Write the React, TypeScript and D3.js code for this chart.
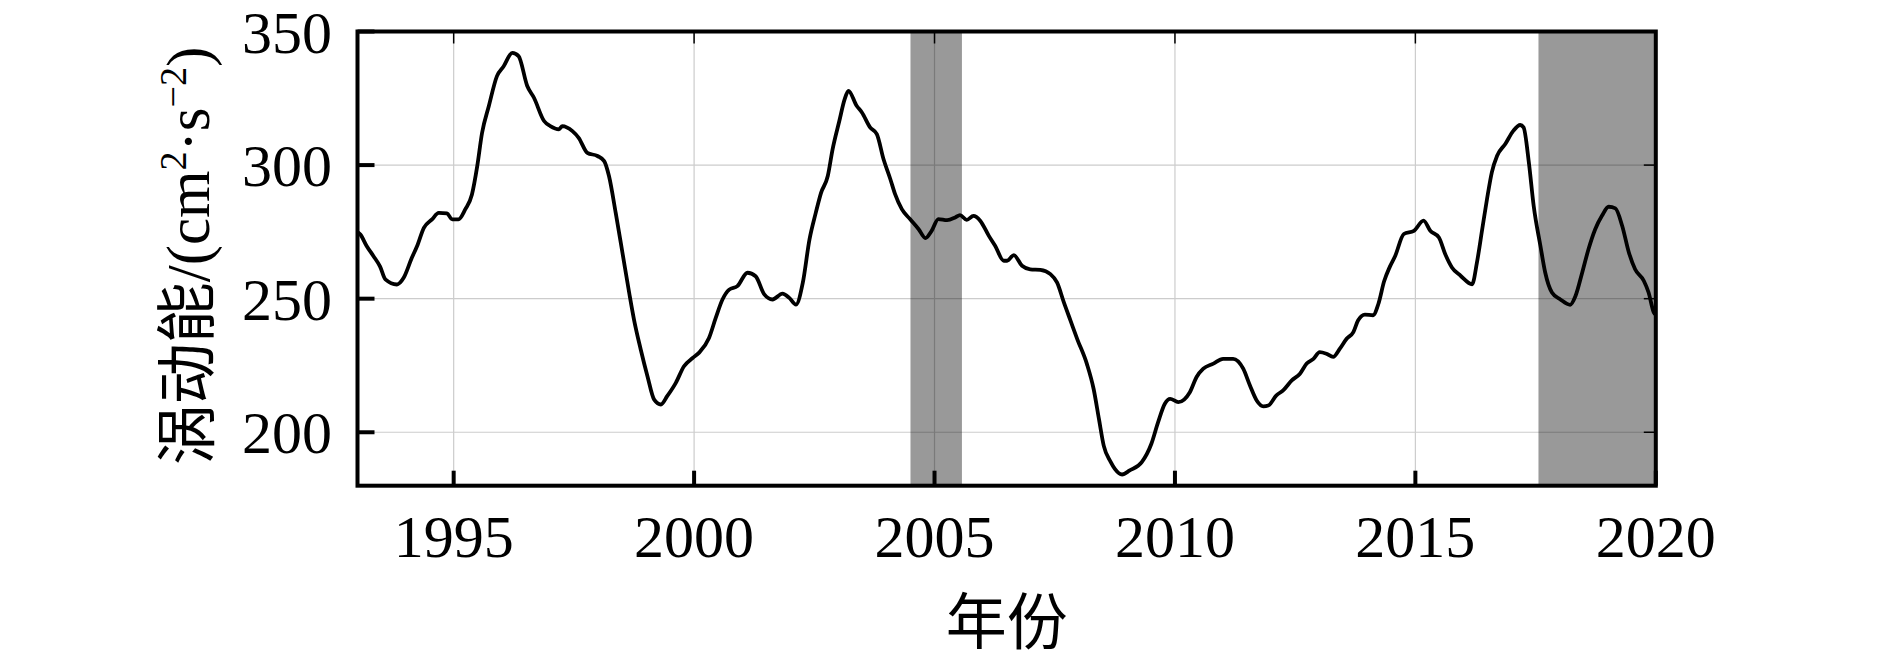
import React from "react";
import * as d3 from "d3";

const years: number[] = [
  1993.0, 1993.06, 1993.19, 1993.33, 1993.47, 1993.58, 1993.82, 1993.96, 1994.13, 1994.24,
  1994.38, 1994.55, 1994.69, 1994.86, 1994.97, 1995.1, 1995.24, 1995.38, 1995.49, 1995.59,
  1995.73, 1995.9, 1996.04, 1996.22, 1996.35, 1996.53, 1996.67, 1996.88, 1997.01, 1997.19,
  1997.26, 1997.47, 1997.6, 1997.78, 1997.99, 1998.13, 1998.23, 1998.37, 1998.51, 1998.65,
  1998.75, 1998.89, 1999.03, 1999.17, 1999.31, 1999.44, 1999.62, 1999.79, 1999.97, 2000.1,
  2000.31, 2000.45, 2000.59, 2000.73, 2000.9, 2001.11, 2001.28, 2001.46, 2001.63, 2001.84,
  2001.98, 2002.12, 2002.26, 2002.4, 2002.53, 2002.64, 2002.78, 2002.88, 2003.02, 2003.13,
  2003.21, 2003.38, 2003.49, 2003.66, 2003.8, 2003.94, 2004.08, 2004.18, 2004.32, 2004.49,
  2004.67, 2004.81, 2004.94, 2005.08, 2005.26, 2005.43, 2005.53, 2005.67, 2005.81, 2005.95,
  2006.13, 2006.26, 2006.44, 2006.51, 2006.65, 2006.82, 2006.99, 2007.2, 2007.41, 2007.55,
  2007.69, 2007.83, 2007.97, 2008.17, 2008.31, 2008.42, 2008.52, 2008.66, 2008.75, 2008.9,
  2009.06, 2009.31, 2009.51, 2009.65, 2009.79, 2009.9, 2010.07, 2010.31, 2010.45, 2010.59,
  2010.8, 2011.0, 2011.21, 2011.42, 2011.56, 2011.7, 2011.84, 2011.94, 2012.11, 2012.25,
  2012.43, 2012.6, 2012.74, 2012.88, 2013.01, 2013.15, 2013.29, 2013.43, 2013.57, 2013.71,
  2013.81, 2013.95, 2014.12, 2014.23, 2014.35, 2014.47, 2014.58, 2014.76, 2014.97, 2015.17,
  2015.31, 2015.49, 2015.62, 2015.76, 2015.94, 2016.18, 2016.28, 2016.39, 2016.49, 2016.59,
  2016.7, 2016.87, 2017.04, 2017.18, 2017.25, 2017.36, 2017.46, 2017.6, 2017.7, 2017.84,
  2018.01, 2018.22, 2018.33, 2018.47, 2018.6, 2018.74, 2018.88, 2019.02, 2019.16, 2019.3,
  2019.44, 2019.57, 2019.75, 2019.85, 2019.96, 2020.0,
];

const eke: number[] = [
  275, 274, 269.7, 266, 262, 257.2, 255.3, 257.8, 265.3, 269.7,
  276.5, 279.7, 282.1, 281.9, 279.7, 279.7, 283.4, 289, 299.6, 312,
  322, 333.3, 337, 342, 340.8, 329.6, 325.2, 316.5, 314.6, 313.4,
  314.6, 312.7, 310.2, 304.6, 303.4, 301.5, 295.9, 282.1, 267.2, 252.2,
  242.2, 231, 221, 212.2, 210.4, 213.5, 218.5, 224.7, 227.8, 229.7,
  235.3, 242.8, 249.7, 253.4, 254.7, 259.7, 258.4, 251.6, 249.7, 251.9,
  250.3, 247.8, 255.9, 272.2, 282.1, 289.6, 295.9, 305.9, 316.5, 324.6,
  327.8, 322.2, 319.7, 314.1, 311.6, 302.2, 294.8, 289.1, 283.5, 279.8,
  276, 272.7, 275.4, 279.8, 279.4, 280.4, 281.3, 279.5, 281, 279.2,
  273.5, 269.8, 264.2, 264.2, 266.3, 262.3, 261, 260.8, 259.2, 256,
  248.6, 241.7, 234.8, 225.5, 216.1, 204.9, 194.9, 189, 186.3, 184.2,
  185.7, 188.8, 195.7, 203.8, 210.7, 212.5, 211.3, 215, 220.7, 223.8,
  225.7, 227.5, 227.5, 223.8, 217.5, 211.9, 209.7, 210, 213.8, 215.7,
  219.4, 221.9, 225.7, 227.5, 230, 229.4, 228.2, 231.3, 235, 237.5,
  241.9, 244, 243.8, 248, 256.5, 262, 266, 274.2, 275.4, 279.2,
  275.4, 272.9, 266.7, 261.7, 258.6, 255.4, 263.5, 276, 287.3, 297.3,
  303.5, 307.9, 312.9, 315, 314.1, 301, 284.8, 269.8, 259.8, 252.3,
  249.8, 247.7, 251, 259.8, 268.5, 276, 281, 284.4, 283.8, 277.3,
  267.3, 261, 256.7, 252.3, 244.8, 244,
];

const shadeStart: number[] = [2004.5, 2017.56];
const shadeEnd: number[] = [2005.57, 2020];

const xTicks: number[] = [1995, 2000, 2005, 2010, 2015, 2020];
const yTicks: number[] = [200, 250, 300, 350];

const xLabel = "年份";

export default function App() {
  const W = 1890;
  const H = 660;
  const left = 357.5;
  const right = 1655.8;
  const top = 31.5;
  const bottom = 485.7;

  const x = d3.scaleLinear().domain([1993, 2020]).range([left, right]);
  const y = d3.scaleLinear().domain([180, 350]).range([bottom, top]);

  const pts: [number, number][] = years.map((t, i) => [t, eke[i]]);
  const line = d3
    .line<[number, number]>()
    .x((d) => x(d[0]))
    .y((d) => y(d[1]))
    .curve(d3.curveMonotoneX);

  const serif = "'Liberation Serif', 'Times New Roman', 'Noto Sans CJK SC', serif";
  const cjk = "'Liberation Serif', 'Noto Sans CJK SC', serif";

  return (
    <svg
      width={W}
      height={H}
      style={{ position: "absolute", left: 0, top: 0, background: "#fff" }}
    >
      <defs>
        <clipPath id="plotClip">
          <rect x={left} y={top} width={right - left} height={bottom - top} />
        </clipPath>
      </defs>
      <rect x={0} y={0} width={W} height={H} fill="#fff" />
      {/* grid */}
      <g>
        {xTicks
          .filter((t) => t > 1993 && t < 2020)
          .map((t) => (
            <line key={"gx" + t} x1={x(t)} x2={x(t)} y1={top} y2={bottom} stroke="#cccccc" strokeWidth={1.2} />
          ))}
        {yTicks
          .filter((v) => v > 180 && v < 350)
          .map((v) => (
            <line key={"gy" + v} x1={left} x2={right} y1={y(v)} y2={y(v)} stroke="#cccccc" strokeWidth={1.2} />
          ))}
      </g>
      {/* shaded periods */}
      <g clipPath="url(#plotClip)">
        {shadeStart.map((s, i) => (
          <rect
            key={"sh" + i}
            x={x(s)}
            y={top}
            width={x(shadeEnd[i]) - x(s)}
            height={bottom - top}
            fill="#000"
            fillOpacity={0.4}
          />
        ))}
      </g>
      {/* data line */}
      <path
        d={line(pts) || ""}
        fill="none"
        stroke="#000"
        strokeWidth={3.8}
        strokeLinejoin="round"
        clipPath="url(#plotClip)"
      />
      {/* ticks */}
      <g>
        {xTicks.map((t) => (
          <g key={"tx" + t}>
            <line x1={x(t)} x2={x(t)} y1={bottom} y2={bottom - 15} stroke="#000" strokeWidth={4} />
            <line x1={x(t)} x2={x(t)} y1={top} y2={top + 12} stroke="#000" strokeWidth={1.5} />
          </g>
        ))}
        {yTicks.map((v) => (
          <g key={"ty" + v}>
            <line x1={left} x2={left + 17} y1={y(v)} y2={y(v)} stroke="#000" strokeWidth={4} />
            <line x1={right} x2={right - 12} y1={y(v)} y2={y(v)} stroke="#000" strokeWidth={1.5} />
          </g>
        ))}
      </g>
      {/* frame */}
      <rect x={left} y={top} width={right - left} height={bottom - top} fill="none" stroke="#000" strokeWidth={4} />
      {/* tick labels */}
      <g fontFamily={serif} fontSize={60} fill="#000">
        {xTicks.map((t) => (
          <text key={"lx" + t} x={x(t)} y={557} textAnchor="middle">
            {t}
          </text>
        ))}
        {yTicks.map((v) => (
          <text key={"ly" + v} x={332} y={y(v) + 21} textAnchor="end">
            {v}
          </text>
        ))}
      </g>
      {/* axis labels */}
      <text x={(left + right) / 2} y={644} textAnchor="middle" fontFamily={cjk} fontSize={61} fill="#000">
        {xLabel}
      </text>
      <text
        transform={`translate(209, 256) rotate(-90)`}
        textAnchor="middle"
        fontFamily={cjk}
        fontSize={61}
        fill="#000"
      >
        <tspan>涡动能/(cm</tspan>
        <tspan fontSize={38} dy={-23}>2</tspan>
        <tspan dy={23}>·s</tspan>
        <tspan fontSize={38} dy={-23}>−2</tspan>
        <tspan dy={23}>)</tspan>
      </text>
    </svg>
  );
}
